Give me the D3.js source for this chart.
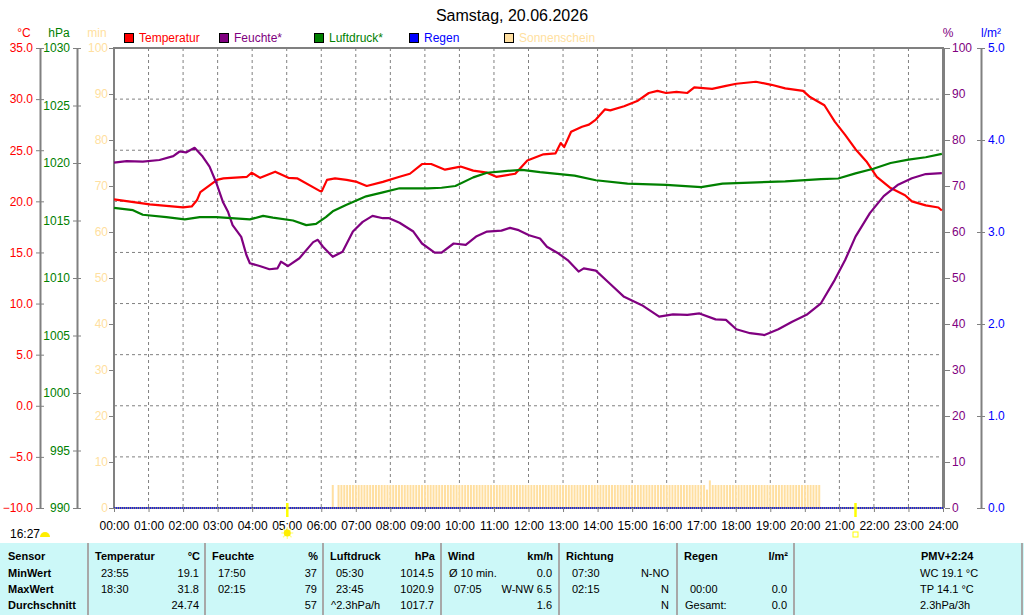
<!DOCTYPE html>
<html>
<head>
<meta charset="utf-8">
<script src="https://cdn.jsdelivr.net/npm/d3@7"></script>
<style>
  body { margin: 0; background: #fff; }
  svg text { font-family: "Liberation Sans Narrow", "Arial Narrow", "Liberation Sans", sans-serif; font-size: 12px; }
  svg .tbl text { font-family: "Liberation Sans", Arial, sans-serif; font-size: 11px; }
  svg .title { font-family: "Liberation Sans", Arial, sans-serif; font-size: 16px; }
</style>
</head>
<body>
<svg id="chart" width="1024" height="615"></svg>
<script>
// values, time "HH:MM"
var temperatur = [
  ["00:00",20.2],["01:02",19.7],["02:00",19.4],["02:15",19.5],["02:24",20.1],["02:30",20.9],
  ["02:59",22.1],["03:10",22.25],["03:51",22.4],["03:59",22.8],["04:14",22.3],["04:40",22.9],
  ["05:03",22.3],["05:18",22.25],["05:58",21.0],["06:01",21.0],["06:10",22.1],["06:24",22.25],
  ["06:44",22.1],["07:02",21.9],["07:19",21.5],["07:47",21.9],["08:16",22.4],["08:34",22.7],
  ["08:55",23.65],["09:11",23.65],["09:35",23.1],["10:02",23.4],["10:24",23.0],["10:48",22.8],
  ["11:04",22.4],["11:37",22.7],["11:58",24.0],["12:26",24.6],["12:47",24.7],["12:56",25.7],
  ["13:02",25.3],["13:14",26.8],["13:33",27.3],["13:45",27.5],["13:57",28.0],["14:13",29.0],
  ["14:22",28.9],["14:46",29.3],["15:10",29.85],["15:29",30.6],["15:44",30.8],["15:59",30.6],
  ["16:17",30.7],["16:36",30.6],["16:48",31.15],["17:19",31.0],["17:43",31.3],["18:01",31.5],
  ["18:35",31.7],["19:02",31.4],["19:26",31.05],["19:57",30.8],["20:09",30.2],["20:34",29.4],
  ["20:52",27.8],["21:10",26.5],["21:28",25.1],["21:47",23.9],["22:05",22.4],["22:29",21.3],
  ["22:54",20.6],["23:06",20.0],["23:30",19.6],["23:52",19.4],["23:58",19.1]
];
var feuchte = [
  ["00:00",75.1],["00:22",75.4],["00:50",75.3],["01:19",75.65],["01:43",76.5],["01:54",77.5],
  ["02:05",77.3],["02:20",78.3],["02:34",76.4],["02:46",74.2],["02:58",70.6],["03:09",66.6],
  ["03:18",64.4],["03:26",61.5],["03:41",58.95],["03:50",55.0],["03:56",53.2],["04:13",52.6],
  ["04:30",51.9],["04:44",52.1],["04:50",53.55],["05:02",52.6],["05:22",54.3],["05:46",57.8],
  ["05:54",58.3],["06:03",56.8],["06:20",54.6],["06:37",55.7],["06:55",60.1],["07:12",62.2],
  ["07:29",63.5],["07:47",63.0],["07:58",63.0],["08:16",62.0],["08:40",60.1],["08:55",57.5],
  ["09:17",55.5],["09:29",55.5],["09:50",57.5],["10:11",57.2],["10:30",59.1],["10:48",60.1],
  ["11:13",60.3],["11:28",60.9],["11:43",60.4],["12:01",59.3],["12:20",58.6],["12:32",56.8],
  ["12:50",55.5],["13:08",53.9],["13:27",51.4],["13:36",52.1],["13:57",51.6],["14:22",48.7],
  ["14:46",45.9],["15:17",44.1],["15:47",41.6],["16:11",42.1],["16:36",42.0],["16:57",42.3],
  ["17:25",41.0],["17:43",40.9],["18:01",38.85],["18:25",38.0],["18:50",37.6],["19:14",38.85],
  ["19:38",40.5],["20:03",42.0],["20:28",44.5],["20:52",49.6],["21:10",53.9],["21:28",59.0],
  ["21:53",64.1],["22:17",67.8],["22:41",70.2],["23:06",71.7],["23:30",72.6],["23:58",72.8]
];
var luftdruck = [
  ["00:00",1016.1],["00:33",1015.9],["00:50",1015.5],["01:31",1015.3],["02:03",1015.1],["02:29",1015.3],
  ["02:58",1015.3],["03:56",1015.1],["04:19",1015.4],["04:36",1015.25],["05:11",1015.0],["05:34",1014.6],
  ["05:51",1014.7],["06:08",1015.3],["06:20",1015.8],["06:43",1016.35],["07:18",1017.1],["07:47",1017.45],
  ["08:16",1017.8],["09:05",1017.8],["09:29",1017.85],["09:53",1018.0],["10:24",1018.75],["10:48",1019.15],
  ["11:19",1019.3],["11:49",1019.4],["12:20",1019.2],["13:20",1018.9],["13:57",1018.5],["14:52",1018.2],
  ["15:59",1018.1],["17:00",1017.9],["17:37",1018.2],["18:25",1018.3],["19:26",1018.4],["20:28",1018.6],
  ["20:58",1018.65],["21:28",1019.1],["21:59",1019.5],["22:29",1020.0],["23:00",1020.3],["23:30",1020.5],
  ["23:58",1020.8]
];
var regen = [["00:00",0],["24:00",0]];

// sunshine minutes per 5-minute slot, first slot 06:20
var sonneStart = "06:20";
var sonne = [
  5,0,5,5,5,5,5,5,
  5,5,5,5,5,5,5,5,5,5,5,5,
  5,5,5,5,5,5,5,5,5,5,5,5,
  5,5,5,5,5,5,5,5,5,5,5,5,
  5,5,5,5,5,5,5,5,5,5,5,5,
  5,5,5,5,5,5,5,5,5,5,5,5,
  5,5,5,5,5,5,5,5,5,5,5,5,
  5,5,5,5,5,5,5,5,5,5,5,5,
  5,5,5,5,5,5,5,5,5,5,5,5,
  5,5,5,5,5,5,5,5,5,5,5,5,
  5,5,5,5,5,5,5,5,5,5,5,5,
  5,5,4,6,5,5,5,5,5,5,5,5,
  5,5,5,5,5,5,5,5,5,5,5,5,
  5,5,5,5,5,5,5,5,5,5,5,5,
  5,5,5,5,5,5
];
var sunrise = "05:01", sunset = "21:28", dayLength = "16:27";

var hours = d3.range(0, 25);
var tempTicks = d3.range(-10, 36, 5);
var hpaTicks = d3.range(990, 1031, 5);
var pctTicks = d3.range(0, 101, 10);
var rainTicks = d3.range(0, 6, 1);

var legendNames = ["Temperatur", "Feuchte*", "Luftdruck*", "Regen", "Sonnenschein"];
var legendColors = ["#ff0000", "#800080", "#008000", "#0000ff", "#ffdfa0"];

var tableLabels = ["Sensor", "MinWert", "MaxWert", "Durchschnitt"];
var colHeads = [["Temperatur","°C"],["Feuchte","%"],["Luftdruck","hPa"],["Wind","km/h"],["Richtung",""],["Regen","l/m²"]];
var colCells = [
  [["23:55","19.1"],["18:30","31.8"],["","24.74"]],
  [["17:50","37"],["02:15","79"],["","57"]],
  [["05:30","1014.5"],["23:45","1020.9"],["^2.3hPa/h","1017.7"]],
  [["Ø 10 min.","0.0"],["07:05","W-NW 6.5"],["","1.6"]],
  [["07:30","N-NO"],["02:15","N"],["","N"]],
  [["",""],["00:00","0.0"],["Gesamt:","0.0"]]
];
var pmvHead = "PMV+2:24";
var pmvLines = ["WC 19.1 °C", "TP 14.1 °C", "2.3hPa/3h"];

var hrs = function(s) { var p = s.split(":"); return +p[0] + p[1] / 60; };

var svg = d3.select("#chart"),
    margin = {top: 48, right: 81, bottom: 107, left: 114},
    width = 1024 - margin.left - margin.right,
    height = 615 - margin.top - margin.bottom;

var x = d3.scaleLinear().domain([0, 24]).range([margin.left, margin.left + width]);
var yT = d3.scaleLinear().domain([-10, 35]).range([margin.top + height, margin.top]);
var yP = d3.scaleLinear().domain([990, 1030]).range([margin.top + height, margin.top]);
var yM = d3.scaleLinear().domain([0, 100]).range([margin.top + height, margin.top]);
var yH = d3.scaleLinear().domain([0, 100]).range([margin.top + height, margin.top]);
var yR = d3.scaleLinear().domain([0, 5]).range([margin.top + height, margin.top]);

var x0 = margin.left, x1 = margin.left + width, y0 = margin.top, y1 = margin.top + height;

// title
svg.append("text").attr("class", "title")
    .attr("x", 512).attr("y", 21)
    .attr("text-anchor", "middle")
    .text("Samstag, 20.06.2026");

// grid
svg.append("g").selectAll("line")
    .data(hours.slice(1, 24)).join("line")
    .attr("x1", d => x(d)).attr("x2", d => x(d))
    .attr("y1", y0).attr("y2", y1)
    .attr("stroke", "#808080").attr("stroke-dasharray", "3,3");
svg.append("g").selectAll("line")
    .data(tempTicks.slice(1, -1)).join("line")
    .attr("x1", x0).attr("x2", x1)
    .attr("y1", d => yT(d)).attr("y2", d => yT(d))
    .attr("stroke", "#808080").attr("stroke-dasharray", "3,3");

// sunshine bars
var s0 = hrs(sonneStart);
svg.append("g").selectAll("rect")
    .data(sonne).join("rect")
    .attr("x", (d, i) => x(s0 + i * 5 / 60) - 1)
    .attr("width", 2)
    .attr("y", d => yM(d))
    .attr("height", d => yM(0) - yM(d))
    .attr("fill", "#ffdfa0");

// plot frame
svg.append("rect")
    .attr("x", x0).attr("y", y0).attr("width", width).attr("height", height)
    .attr("fill", "none").attr("stroke", "#808080").attr("stroke-width", 2);
svg.append("line").attr("x1", x1 + 1.5).attr("x2", x1 + 1.5).attr("y1", y0).attr("y2", y1)
    .attr("stroke", "#808080").attr("stroke-width", 1);

// rain
svg.append("path").datum(regen)
    .attr("fill", "none").attr("stroke", "#0000ff").attr("stroke-width", 1.5)
    .attr("stroke-dasharray", "1,1")
    .attr("d", d3.line().x(d => x(hrs(d[0]))).y(d => yR(d[1])));

// series
function drawLine(data, y, color) {
  svg.append("path").datum(data)
      .attr("fill", "none").attr("stroke", color).attr("stroke-width", 2.2)
      .attr("stroke-linejoin", "round")
      .attr("d", d3.line().x(d => x(hrs(d[0]))).y(d => y(d[1])));
}
drawLine(temperatur, yT, "#ff0000");
drawLine(feuchte, yH, "#800080");
drawLine(luftdruck, yP, "#008000");

// axes
function styleAxis(g, color) {
  g.attr("font-family", null).attr("font-size", null);
  g.selectAll("text").attr("fill", color);
  g.selectAll("line").attr("stroke", "#808080");
  g.select(".domain").attr("stroke", "#808080").attr("stroke-width", 2);
}

var gx = svg.append("g")
    .attr("transform", "translate(0," + y1 + ")")
    .call(d3.axisBottom(x).tickValues(hours).tickSize(4).tickPadding(9).tickSizeOuter(0)
      .tickFormat(d => (d < 10 ? "0" : "") + d + ":00"));
styleAxis(gx, "#000");
gx.select(".domain").remove();

var gT = svg.append("g").attr("transform", "translate(40,0)")
    .call(d3.axisLeft(yT).tickValues(tempTicks).tickSize(4).tickSizeOuter(0).tickFormat(d3.format(".1f")));
styleAxis(gT, "#ff0000");
gT.selectAll(".tick line").attr("x1", 4);

var gP = svg.append("g").attr("transform", "translate(77,0)")
    .call(d3.axisLeft(yP).tickValues(hpaTicks).tickSize(4).tickSizeOuter(0).tickFormat(d3.format("d")));
styleAxis(gP, "#008000");
gP.selectAll(".tick line").attr("x1", 4);

var gM = svg.append("g").attr("transform", "translate(" + x0 + ",0)")
    .call(d3.axisLeft(yM).tickValues(pctTicks).tickSize(5).tickPadding(1).tickSizeOuter(0));
styleAxis(gM, "#ffdfa0");
gM.select(".domain").remove();

var gH = svg.append("g").attr("transform", "translate(" + (x1 + 2) + ",0)")
    .call(d3.axisRight(yH).tickValues(pctTicks).tickSize(5).tickPadding(2).tickSizeOuter(0));
styleAxis(gH, "#800080");
gH.select(".domain").remove();

var gR = svg.append("g").attr("transform", "translate(981,0)")
    .call(d3.axisRight(yR).tickValues(rainTicks).tickSize(4).tickSizeOuter(0).tickFormat(d3.format(".1f")));
styleAxis(gR, "#0000ff");
gR.selectAll(".tick line").attr("x1", -4);

// unit labels
svg.append("text").attr("x", 24).attr("y", 37).attr("text-anchor", "middle").attr("fill", "#ff0000").text("°C");
svg.append("text").attr("x", 59).attr("y", 37).attr("text-anchor", "middle").attr("fill", "#008000").text("hPa");
svg.append("text").attr("x", 97).attr("y", 37).attr("text-anchor", "middle").attr("fill", "#ffdfa0").text("min");
svg.append("text").attr("x", 948).attr("y", 37).attr("text-anchor", "middle").attr("fill", "#800080").text("%");
svg.append("text").attr("x", 991).attr("y", 37).attr("text-anchor", "middle").attr("fill", "#0000ff").text("l/m²");

// legend
var leg = svg.append("g").selectAll("g")
    .data(legendNames).join("g")
    .attr("transform", (d, i) => "translate(" + (124 + i * 95) + ",33)");
leg.append("rect").attr("x", 0.5).attr("y", 0.5).attr("width", 9).attr("height", 9)
    .attr("fill", (d, i) => legendColors[i]).attr("stroke", "#000");
leg.append("text").attr("x", 15).attr("y", 9)
    .attr("fill", (d, i) => legendColors[i]).text(d => d);

// sunrise / sunset
[sunrise, sunset].forEach(function(t) {
  svg.append("line").attr("x1", x(hrs(t))).attr("x2", x(hrs(t)))
      .attr("y1", y1 - 5).attr("y2", y1 + 9)
      .attr("stroke", "#ffff00").attr("stroke-width", 2.5);
});
var sx = x(hrs(sunrise));
svg.append("g").selectAll("line").data(d3.range(8)).join("line")
    .attr("x1", d => sx + 3 * Math.cos(d * Math.PI / 4)).attr("y1", d => 533 + 3 * Math.sin(d * Math.PI / 4))
    .attr("x2", d => sx + 6 * Math.cos(d * Math.PI / 4)).attr("y2", d => 533 + 6 * Math.sin(d * Math.PI / 4))
    .attr("stroke", "#ffff80").attr("stroke-width", 1.2);
svg.append("circle").attr("cx", sx).attr("cy", 533).attr("r", 3.5).attr("fill", "#ffee00");
svg.append("rect").attr("x", x(hrs(sunset)) - 2.5).attr("y", 532).attr("width", 5).attr("height", 5)
    .attr("fill", "none").attr("stroke", "#ffff00");
svg.append("text").attr("x", 10).attr("y", 538).text(dayLength);
svg.append("path").attr("d", "M40,537 A5,5 0 0 1 50,537 Z").attr("fill", "#ffee00");

// table
var tbl = svg.append("g").attr("class", "tbl");
tbl.append("rect").attr("x", 0).attr("y", 543).attr("width", 1024).attr("height", 72).attr("fill", "#ccf8f8");
tbl.selectAll("line.sep").data([88, 205, 323, 441, 559, 677, 794, 1022]).join("line")
    .attr("x1", d => d).attr("x2", d => d).attr("y1", 543).attr("y2", 615)
    .attr("stroke", "#a8a8a8").attr("stroke-width", 2);

var rowY = [560, 577, 593, 609];
var colLeft = [95, 212, 330, 448, 566, 684];
var colRight = [200, 318, 435, 553, 670, 788];

tbl.selectAll("text.lab").data(tableLabels).join("text")
    .attr("x", 8).attr("y", (d, i) => rowY[i]).attr("font-weight", "bold").text(d => d);

colHeads.forEach(function(h, c) {
  tbl.append("text").attr("x", colLeft[c]).attr("y", rowY[0]).attr("font-weight", "bold").text(h[0]);
  tbl.append("text").attr("x", colRight[c]).attr("y", rowY[0]).attr("font-weight", "bold")
      .attr("text-anchor", "end").text(h[1]);
  colCells[c].forEach(function(r, i) {
    var indent = /^\d\d:\d\d$/.test(r[0]) ? 6 : 1;
    tbl.append("text").attr("x", colLeft[c] + indent).attr("y", rowY[i + 1]).text(r[0]);
    tbl.append("text").attr("x", colRight[c] - 1).attr("y", rowY[i + 1]).attr("text-anchor", "end").text(r[1]);
  });
});

tbl.append("text").attr("x", 921).attr("y", rowY[0]).attr("font-weight", "bold").text(pmvHead);
tbl.selectAll("text.pmv").data(pmvLines).join("text")
    .attr("x", 920).attr("y", (d, i) => rowY[i + 1]).text(d => d);
</script>
</body>
</html>
